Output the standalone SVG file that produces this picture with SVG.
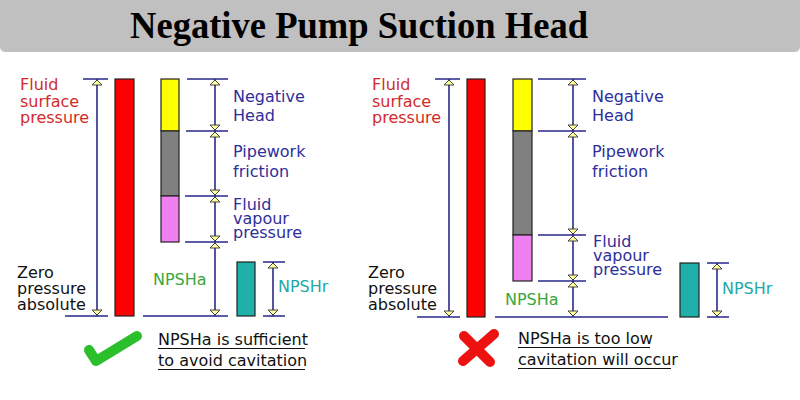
<svg xmlns="http://www.w3.org/2000/svg" width="800" height="400" viewBox="0 0 800 400">
<style>
text{font-family:"DejaVu Sans","Liberation Sans",sans-serif;font-size:16px}
.title{font-family:"Liberation Serif","Times New Roman",serif;font-weight:bold;font-size:38px;fill:#000}
.red{fill:#d42a2a}.navy{fill:#2e2e9a}.blk{fill:#111}.grn{fill:#3aa63a}.teal{fill:#22a8a8}
.bar{stroke:#222;stroke-width:1.2}
.dl{stroke:#2a2a8c;stroke-width:1.6;fill:none}
.dim{stroke:#2a2a8c;stroke-width:1.6;fill:none;marker-start:url(#ah);marker-end:url(#ah)}
.ul{stroke:#111;stroke-width:1.2}
</style>
<defs>
<marker id="ah" markerUnits="userSpaceOnUse" markerWidth="12" markerHeight="12" refX="0" refY="0" orient="auto-start-reverse" overflow="visible">
<path d="M-1,0 L-6,-5 L-6,5 Z" fill="#ffff99" stroke="#333" stroke-width="0.9"/>
</marker>
</defs>
<rect width="800" height="400" fill="#fff"/>
<g id="title">
<path d="M0,0 H800 V46 Q800,52 794,52 H6 Q0,52 0,46 Z" fill="#c0c0c0"/>
<text class="title" x="130" y="38" textLength="458" lengthAdjust="spacingAndGlyphs">Negative Pump Suction Head</text>
</g>

<!-- LEFT PANEL -->
<g id="left-bars">
<rect class="bar" x="115" y="79" width="19" height="237" fill="#ff0000"/>
<rect class="bar" x="161" y="79" width="18" height="52" fill="#ffff00"/>
<rect class="bar" x="161" y="131" width="18" height="65" fill="#808080"/>
<rect class="bar" x="161" y="196" width="18" height="46" fill="#f080f0"/>
<rect class="bar" x="237" y="262" width="18" height="54" fill="#20b0aa"/>
</g>
<g id="left-connectors">
<path class="dl" d="M83,79H108 M187,79H228 M186,131H228 M185,196H228 M185,242H228 M65,316H108 M143,316H228 M263,262H285 M263,316H285"/>
<path class="dim" d="M97,79V316"/>
<path class="dim" d="M215,79V131"/>
<path class="dim" d="M215,131V196"/>
<path class="dim" d="M215,196V242"/>
<path class="dim" d="M215,242V316"/>
<path class="dim" d="M273,262V316"/>
</g>
<g id="left-labels">
<text class="red" x="20" y="90">Fluid</text>
<text class="red" x="20" y="107">surface</text>
<text class="red" x="20" y="123">pressure</text>
<text class="navy" x="233" y="102">Negative</text>
<text class="navy" x="233" y="121">Head</text>
<text class="navy" x="233" y="157">Pipework</text>
<text class="navy" x="233" y="177">friction</text>
<text class="navy" x="233" y="210">Fluid</text>
<text class="navy" x="233" y="224">vapour</text>
<text class="navy" x="233" y="238">pressure</text>
<text class="blk" x="17" y="278">Zero</text>
<text class="blk" x="17" y="294">pressure</text>
<text class="blk" x="17" y="310">absolute</text>
<text class="grn" x="153" y="285">NPSHa</text>
<text class="teal" x="278" y="292">NPSHr</text>
</g>
<g id="left-verdict">
<path d="M89,350 L96,361 L137,336" fill="none" stroke="#2cbf2c" stroke-width="10" stroke-linecap="round" stroke-linejoin="round"/>
<text class="blk" x="158" y="345">NPSHa is sufficient</text>
<text class="blk" x="158" y="366">to avoid cavitation</text>
<path class="ul" d="M158,348.5H305 M158,369.5H305"/>
</g>

<!-- RIGHT PANEL -->
<g id="right-bars">
<rect class="bar" x="467" y="79" width="18" height="238" fill="#ff0000"/>
<rect class="bar" x="513" y="79" width="19" height="52" fill="#ffff00"/>
<rect class="bar" x="513" y="131" width="19" height="104" fill="#808080"/>
<rect class="bar" x="513" y="235" width="19" height="46" fill="#f080f0"/>
<rect class="bar" x="680" y="263" width="19" height="54" fill="#20b0aa"/>
</g>
<g id="right-connectors">
<path class="dl" d="M435,79H460 M538,79H586 M538,131H586 M538,235H586 M538,281H586 M417,317H460 M495,317H668 M707,263H729 M707,317H729"/>
<path class="dim" d="M449,79V317"/>
<path class="dim" d="M573,79V131"/>
<path class="dim" d="M573,131V235"/>
<path class="dim" d="M573,235V281"/>
<path class="dim" d="M573,281V317"/>
<path class="dim" d="M717,263V317"/>
</g>
<g id="right-labels">
<text class="red" x="372" y="90">Fluid</text>
<text class="red" x="372" y="107">surface</text>
<text class="red" x="372" y="123">pressure</text>
<text class="navy" x="592" y="102">Negative</text>
<text class="navy" x="592" y="121">Head</text>
<text class="navy" x="592" y="157">Pipework</text>
<text class="navy" x="592" y="177">friction</text>
<text class="navy" x="593" y="247">Fluid</text>
<text class="navy" x="593" y="261">vapour</text>
<text class="navy" x="593" y="275">pressure</text>
<text class="blk" x="368" y="278">Zero</text>
<text class="blk" x="368" y="294">pressure</text>
<text class="blk" x="368" y="310">absolute</text>
<text class="grn" x="505" y="305">NPSHa</text>
<text class="teal" x="722" y="294">NPSHr</text>
</g>
<g id="right-verdict">
<path d="M464,336 L490,362 M494,334 L463,361" fill="none" stroke="#ee1111" stroke-width="10" stroke-linecap="round"/>
<text class="blk" x="518" y="344">NPSHa is too low</text>
<text class="blk" x="518" y="365">cavitation will occur</text>
<path class="ul" d="M518,347.5H650 M518,368.5H671"/>
</g>
</svg>
